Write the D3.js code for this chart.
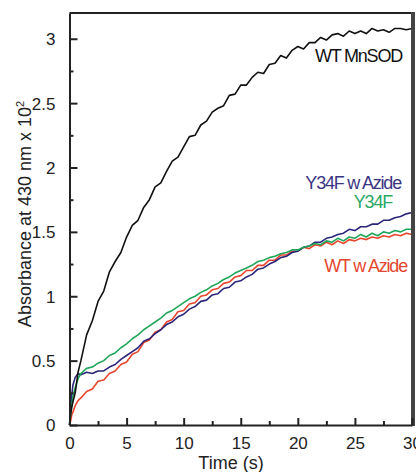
<!DOCTYPE html>
<html><head><meta charset="utf-8">
<script src="https://cdn.jsdelivr.net/npm/d3@7"></script>
<style>
html,body{margin:0;padding:0;background:#fff;}
svg{display:block;}
text{font-family:"Liberation Sans",Arial,Helvetica,sans-serif;}
</style></head>
<body>
<svg id="c" width="416" height="472"></svg>
<script>
const times = [0,0.1,0.2,0.3,0.5,0.75,1,1.5,2,2.5,3,3.5,4,4.5,5,5.5,6,6.5,7,7.5,8,8.5,9,9.5,10,10.5,11,11.5,12,12.5,13,13.5,14,14.5,15,15.5,16,16.5,17,17.5,18,18.5,19,19.5,20,20.5,21,21.5,22,22.5,23,23.5,24,24.5,25,25.5,26,26.5,27,27.5,28,28.5,29,29.5,30];
const wtMnSOD = [0,0.08,0.14,0.18,0.25,0.41,0.50,0.70,0.81,0.96,1.04,1.19,1.27,1.34,1.46,1.55,1.59,1.69,1.75,1.85,1.88,1.97,2.05,2.08,2.16,2.24,2.25,2.33,2.36,2.43,2.46,2.48,2.56,2.57,2.64,2.64,2.70,2.74,2.73,2.80,2.81,2.87,2.85,2.91,2.94,2.92,2.97,2.97,3.01,2.99,3.03,3.04,3.02,3.06,3.04,3.06,3.04,3.08,3.06,3.07,3.05,3.08,3.08,3.07,3.08];
const y34fAzide = [0,0.13,0.23,0.31,0.37,0.40,0.39,0.41,0.40,0.42,0.42,0.45,0.47,0.51,0.54,0.57,0.60,0.65,0.67,0.71,0.74,0.78,0.80,0.84,0.86,0.90,0.92,0.96,0.97,1.01,1.02,1.06,1.07,1.11,1.12,1.15,1.17,1.21,1.22,1.25,1.27,1.30,1.31,1.34,1.35,1.38,1.39,1.42,1.42,1.45,1.46,1.48,1.49,1.52,1.51,1.54,1.54,1.56,1.56,1.59,1.59,1.61,1.62,1.64,1.65];
const y34f = [0,0.09,0.15,0.22,0.29,0.36,0.40,0.44,0.45,0.48,0.50,0.54,0.56,0.60,0.63,0.67,0.70,0.74,0.77,0.80,0.83,0.87,0.89,0.92,0.95,0.98,1.00,1.03,1.05,1.08,1.10,1.13,1.15,1.18,1.20,1.22,1.24,1.27,1.28,1.30,1.31,1.33,1.34,1.36,1.36,1.38,1.39,1.41,1.40,1.43,1.42,1.45,1.43,1.46,1.45,1.48,1.46,1.49,1.47,1.50,1.49,1.51,1.50,1.52,1.52];
const wtAzide = [0,0.03,0.08,0.10,0.15,0.19,0.21,0.26,0.28,0.34,0.35,0.40,0.42,0.47,0.49,0.55,0.57,0.64,0.66,0.72,0.74,0.80,0.82,0.88,0.89,0.94,0.95,1.00,1.01,1.05,1.06,1.10,1.11,1.15,1.16,1.20,1.20,1.24,1.24,1.28,1.28,1.32,1.32,1.35,1.35,1.38,1.37,1.40,1.39,1.42,1.40,1.43,1.41,1.44,1.43,1.45,1.44,1.46,1.45,1.47,1.46,1.48,1.47,1.49,1.48];
const xTicks = [0,5,10,15,20,25,30];
const yTicks = [0,0.5,1,1.5,2,2.5,3];
const seriesNames = ["WT MnSOD","Y34F w Azide","Y34F","WT w Azide"];

const svg = d3.select("#c");
const x = d3.scaleLinear().domain([0,30]).range([69.5,412]);
const y = d3.scaleLinear().domain([0,3.2]).range([425,13]);

const line = d3.line().x(d=>x(d[0])).y(d=>y(d[1]));
const series = [
  {name:seriesNames[3], vals:wtAzide, color:"#e8452c"},
  {name:seriesNames[1], vals:y34fAzide, color:"#2b2679"},
  {name:seriesNames[2], vals:y34f, color:"#1fa65a"},
  {name:seriesNames[0], vals:wtMnSOD, color:"#111"}
];
svg.append("g").selectAll("path").data(series).join("path")
  .attr("d", s=>line(times.map((t,i)=>[t,s.vals[i]])))
  .attr("fill","none").attr("stroke",s=>s.color).attr("stroke-width",1.6)
  .attr("stroke-linejoin","round");

// frame
svg.append("line").attr("x1",x(0)).attr("x2",413).attr("y1",y(3.2)).attr("y2",y(3.2)).attr("stroke","#222").attr("stroke-width",2);
svg.append("line").attr("x1",413).attr("x2",413).attr("y1",12).attr("y2",426).attr("stroke","#444").attr("stroke-width",4);

// axes
const xAx = svg.append("g").attr("transform",`translate(0,${y(0)})`)
  .call(d3.axisBottom(x).tickValues(xTicks).tickSizeInner(-7).tickSizeOuter(0).tickPadding(15).tickFormat(d3.format("d")));
const xMinor = svg.append("g").attr("transform",`translate(0,${y(0)})`)
  .call(d3.axisBottom(x).tickValues([2.5,7.5,12.5,17.5,22.5,27.5]).tickSizeInner(-4).tickSizeOuter(0).tickFormat(""));
xMinor.select(".domain").remove();
const yAx = svg.append("g").attr("transform",`translate(${x(0)},0)`)
  .call(d3.axisLeft(y).tickValues(yTicks).tickSizeInner(-8).tickSizeOuter(0).tickPadding(14).tickFormat(d=>String(d)));
const yMinor = svg.append("g").attr("transform",`translate(${x(0)},0)`)
  .call(d3.axisLeft(y).tickValues([0.25,0.75,1.25,1.75,2.25,2.75]).tickSizeInner(-4).tickSizeOuter(0).tickFormat(""));
yMinor.select(".domain").remove();
svg.selectAll(".domain").attr("stroke","#222").attr("stroke-width",2);
svg.selectAll(".tick line").attr("stroke","#222").attr("stroke-width",2);
svg.selectAll(".tick text").attr("font-size",17).attr("fill","#222")
  .attr("font-family","'Liberation Sans',Arial,sans-serif");
xAx.selectAll(".tick text").attr("dy","0.5em");
yAx.selectAll(".tick text").attr("dy","0.35em");

// axis titles
svg.append("text").attr("x",231).attr("y",469).attr("text-anchor","middle")
  .attr("font-size",18).attr("fill","#222").text("Time (s)");
const yl = svg.append("text").attr("transform","translate(31,214) rotate(-90)")
  .attr("text-anchor","middle").attr("font-size",18).attr("fill","#222");
yl.append("tspan").text("Absorbance at 430 nm x 10");
yl.append("tspan").attr("font-size",11).attr("dy",-7).text("2");

// series labels
const lab = [
  {t:seriesNames[0], x:402, y:62, c:"#111"},
  {t:seriesNames[1], x:401, y:189, c:"#3a3484"},
  {t:seriesNames[2], x:392, y:208, c:"#2aa866"},
  {t:seriesNames[3], x:407, y:272, c:"#e4472e"}
];
svg.append("g").selectAll("text").data(lab).join("text")
  .attr("x",d=>d.x).attr("y",d=>d.y).attr("text-anchor","end")
  .attr("font-size",18).attr("letter-spacing","-1.2px").attr("fill",d=>d.c).text(d=>d.t);
</script>
</body></html>
